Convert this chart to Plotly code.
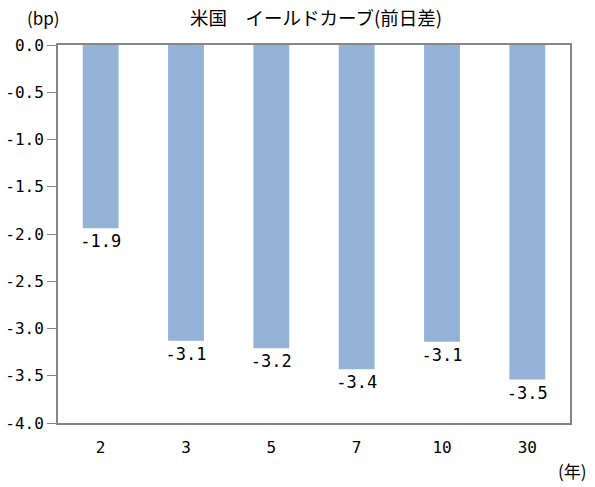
import plotly.graph_objects as go

categories = ["2", "3", "5", "7", "10", "30"]
values = [-1.94, -3.13, -3.21, -3.43, -3.14, -3.54]
labels = [f"{v:.1f}" for v in values]
y_ticks = [0.0, -0.5, -1.0, -1.5, -2.0, -2.5, -3.0, -3.5, -4.0]
y_ticklabels = [f"{t:.1f}" for t in y_ticks]

JP = "Noto Sans CJK JP"
NUM = "DejaVu Sans Mono, Noto Sans CJK JP"

fig = go.Figure()
fig.add_trace(go.Bar(
    x=categories, y=values, text=labels, textposition="outside",
    textfont=dict(family=NUM, size=17, color="black"),
    constraintext="none",
    marker=dict(color="#95B3D7", line=dict(width=0)),
    width=0.42, cliponaxis=False,
))

fig.update_layout(
    width=595, height=487,
    margin=dict(l=58, r=25, t=45, b=64),
    paper_bgcolor="white", plot_bgcolor="white",
    showlegend=False,
    font=dict(family=JP, size=16, color="black"),
    annotations=[
        dict(text="米国　イールドカーブ(前日差)", xref="paper", yref="paper",
             x=0.5, y=1.0, xshift=2, yshift=28, showarrow=False,
             font=dict(family=JP, size=18.5), xanchor="center", yanchor="middle"),
        dict(text="(bp)", xref="paper", yref="paper", x=0, y=1.0, xshift=-15, yshift=28,
             showarrow=False, font=dict(family=JP, size=17), xanchor="center", yanchor="middle"),
        dict(text="(年)", xref="paper", yref="paper", x=1.0, y=0, xshift=19, yshift=-47,
             showarrow=False, font=dict(family=JP, size=17), xanchor="right", yanchor="middle"),
    ],
)
fig.update_xaxes(
    type="category", showline=True, linecolor="#868686", linewidth=2, mirror=True,
    ticks="", showgrid=False, tickfont=dict(family=NUM, size=16), ticklabelstandoff=9,
    automargin=False,
)
fig.update_yaxes(
    range=[-4.0, 0.0], tickvals=y_ticks, ticktext=y_ticklabels,
    showline=True, linecolor="#868686", linewidth=2, mirror=True,
    ticks="outside", ticklen=9, tickcolor="#868686", showgrid=False, zeroline=False,
    tickfont=dict(family=NUM, size=16), automargin=False,
)

fig.write_html("out.html")
